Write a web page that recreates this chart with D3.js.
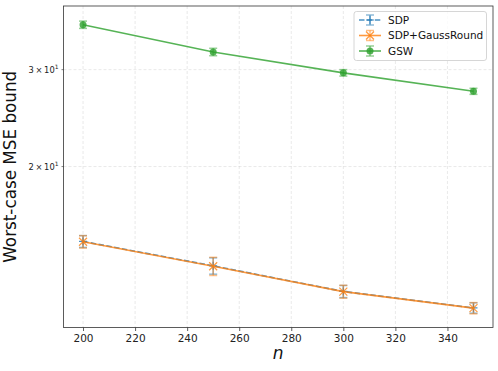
<!DOCTYPE html>
<html>
<head>
<meta charset="utf-8">
<script src="https://cdn.jsdelivr.net/npm/d3@7"></script>
<style>
  body { margin: 0; background: #fff; }
  text { font-family: "DejaVu Sans", sans-serif; }
</style>
</head>
<body>
<div id="chart"></div>
<script>
// data
var nValues = [200, 250, 300, 350];
var sdpMean = [14.62, 13.2, 11.86, 11.07];
var sdpErr = [0.36, 0.45, 0.3, 0.24];
var gaussMean = [14.6, 13.18, 11.85, 11.06];
var gaussErr = [0.38, 0.5, 0.32, 0.26];
var gswMean = [36.2, 32.3, 29.6, 27.4];
var gswErr = [0.55, 0.5, 0.4, 0.35];
var xTicks = [200, 220, 240, 260, 280, 300, 320, 340];
var yTicks = [20, 30];

var width = 498, height = 371;
// plot box (window.top is reserved, so use own names)
var boxL = 63.5, boxR = 493, boxT = 6, boxB = 327.5;

let svg = d3.select("#chart").append("svg")
    .attr("width", width)
    .attr("height", height);

var x = d3.scaleLinear().domain([192.5, 357.5]).range([boxL, boxR]);
var y = d3.scaleLog().domain([10.2, 39.15]).range([boxB, boxT]);

// grid
svg.append("g").selectAll("line").data(xTicks).join("line")
    .attr("x1", d => x(d)).attr("x2", d => x(d))
    .attr("y1", boxT).attr("y2", boxB)
    .attr("stroke", "#b0b0b0").attr("stroke-opacity", 0.35)
    .attr("stroke-width", 0.8).attr("stroke-dasharray", "3,2");
svg.append("g").selectAll("line").data(yTicks).join("line")
    .attr("x1", boxL).attr("x2", boxR)
    .attr("y1", d => y(d)).attr("y2", d => y(d))
    .attr("stroke", "#b0b0b0").attr("stroke-opacity", 0.35)
    .attr("stroke-width", 0.8).attr("stroke-dasharray", "3,2");

// series
var series = [
  {name: "SDP", mean: sdpMean, err: sdpErr, color: "#1f77b4", dash: "5.5,2.4", marker: "plus"},
  {name: "SDP+GaussRound", mean: gaussMean, err: gaussErr, color: "#ff7f0e", dash: null, marker: "x"},
  {name: "GSW", mean: gswMean, err: gswErr, color: "#2ca02c", dash: null, marker: "circle"}
];

var line = d3.line().x(d => x(d[0])).y(d => y(d[1]));

function drawMarker(g, type, cx, cy, color) {
  if (type == "circle") {
    g.append("circle").attr("cx", cx).attr("cy", cy).attr("r", 3.5)
      .attr("fill", color).attr("fill-opacity", 0.8);
  } else if (type == "x") {
    var s = 4;
    g.append("path")
      .attr("d", `M${cx - s},${cy - s}L${cx + s},${cy + s}M${cx - s},${cy + s}L${cx + s},${cy - s}`)
      .attr("stroke", color).attr("stroke-width", 1.2).attr("stroke-opacity", 0.8).attr("fill", "none");
  } else {
    var s = 4;
    g.append("path")
      .attr("d", `M${cx - s},${cy}L${cx + s},${cy}M${cx},${cy - s}L${cx},${cy + s}`)
      .attr("stroke", color).attr("stroke-width", 1.2).attr("stroke-opacity", 0.8).attr("fill", "none");
  }
}

function drawErr(g, cx, cy1, cy2, color) {
  g.append("line").attr("x1", cx).attr("x2", cx).attr("y1", cy1).attr("y2", cy2)
    .attr("stroke", color).attr("stroke-width", 1.5).attr("stroke-opacity", 0.5);
  [cy1, cy2].forEach(function(c) {
    g.append("line").attr("x1", cx - 4).attr("x2", cx + 4).attr("y1", c).attr("y2", c)
      .attr("stroke", color).attr("stroke-width", 1.5).attr("stroke-opacity", 0.5);
  });
}

series.forEach(function(s) {
  var g = svg.append("g");
  var pts = nValues.map((n, i) => [n, s.mean[i]]);
  nValues.forEach(function(n, i) {
    drawErr(g, x(n), y(s.mean[i] + s.err[i]), y(s.mean[i] - s.err[i]), s.color);
  });
  g.append("path").datum(pts)
    .attr("d", line)
    .attr("fill", "none")
    .attr("stroke", s.color)
    .attr("stroke-opacity", 0.8)
    .attr("stroke-width", 1.6)
    .attr("stroke-dasharray", s.dash);
  pts.forEach(function(p) {
    drawMarker(g, s.marker, x(p[0]), y(p[1]), s.color);
  });
});

// frame
svg.append("rect")
    .attr("x", boxL).attr("y", boxT)
    .attr("width", boxR - boxL).attr("height", boxB - boxT)
    .attr("fill", "none").attr("stroke", "#333").attr("stroke-width", 0.8);

// x axis
var xAxis = d3.axisBottom(x).tickValues(xTicks).tickSize(3.5).tickPadding(3.5);
svg.append("g")
    .attr("transform", `translate(0,${boxB})`)
    .call(xAxis)
    .call(g => g.select(".domain").remove())
    .call(g => g.selectAll("text").attr("font-size", "10.5px").attr("fill", "#222")
        .attr("font-family", "DejaVu Sans"))
    .call(g => g.selectAll("line").attr("stroke", "#333").attr("stroke-width", 0.8));

// y axis, minor log ticks with mathtext-like labels
var yg = svg.append("g");
yTicks.forEach(function(t) {
  var ty = y(t);
  yg.append("line").attr("x1", boxL - 2).attr("x2", boxL).attr("y1", ty).attr("y2", ty)
    .attr("stroke", "#333").attr("stroke-width", 0.6);
  var txt = yg.append("text")
    .attr("x", boxL - 5).attr("y", ty + 3)
    .attr("text-anchor", "end")
    .attr("font-size", "8.3px").attr("fill", "#222");
  txt.append("tspan").text((t / 10) + "\u2009\u00d7\u200910");
  txt.append("tspan").attr("font-size", "6px").attr("dy", -3.5).text("1");
});

// axis labels
svg.append("text")
    .attr("transform", `translate(16,${(boxT + boxB) / 2}) rotate(-90)`)
    .attr("text-anchor", "middle")
    .attr("font-size", "16.8px")
    .attr("fill", "#111")
    .text("Worst-case MSE bound");

svg.append("text")
    .attr("x", (boxL + boxR) / 2).attr("y", 359)
    .attr("text-anchor", "middle")
    .attr("font-size", "17px")
    .attr("font-style", "italic")
    .attr("fill", "#111")
    .text("n");

// legend
var lg = svg.append("g").attr("transform", "translate(354,11.5)");
lg.append("rect").attr("width", 132.5).attr("height", 49).attr("rx", 2.5)
    .attr("fill", "#fff").attr("fill-opacity", 0.8)
    .attr("stroke", "#ccc").attr("stroke-width", 0.8);
series.forEach(function(s, i) {
  var ly = 8.5 + i * 15.5;
  var g = lg.append("g");
  g.append("line").attr("x1", 5).attr("x2", 27).attr("y1", ly).attr("y2", ly)
    .attr("stroke", s.color).attr("stroke-opacity", 0.8)
    .attr("stroke-width", 1.6).attr("stroke-dasharray", s.dash);
  drawErr(g, 16, ly - 5, ly + 5, s.color);
  drawMarker(g, s.marker, 16, ly, s.color);
  g.append("text").attr("x", 34).attr("y", ly + 3.8)
    .attr("font-size", "10.5px").attr("fill", "#111").text(s.name);
});
</script>
</body>
</html>
